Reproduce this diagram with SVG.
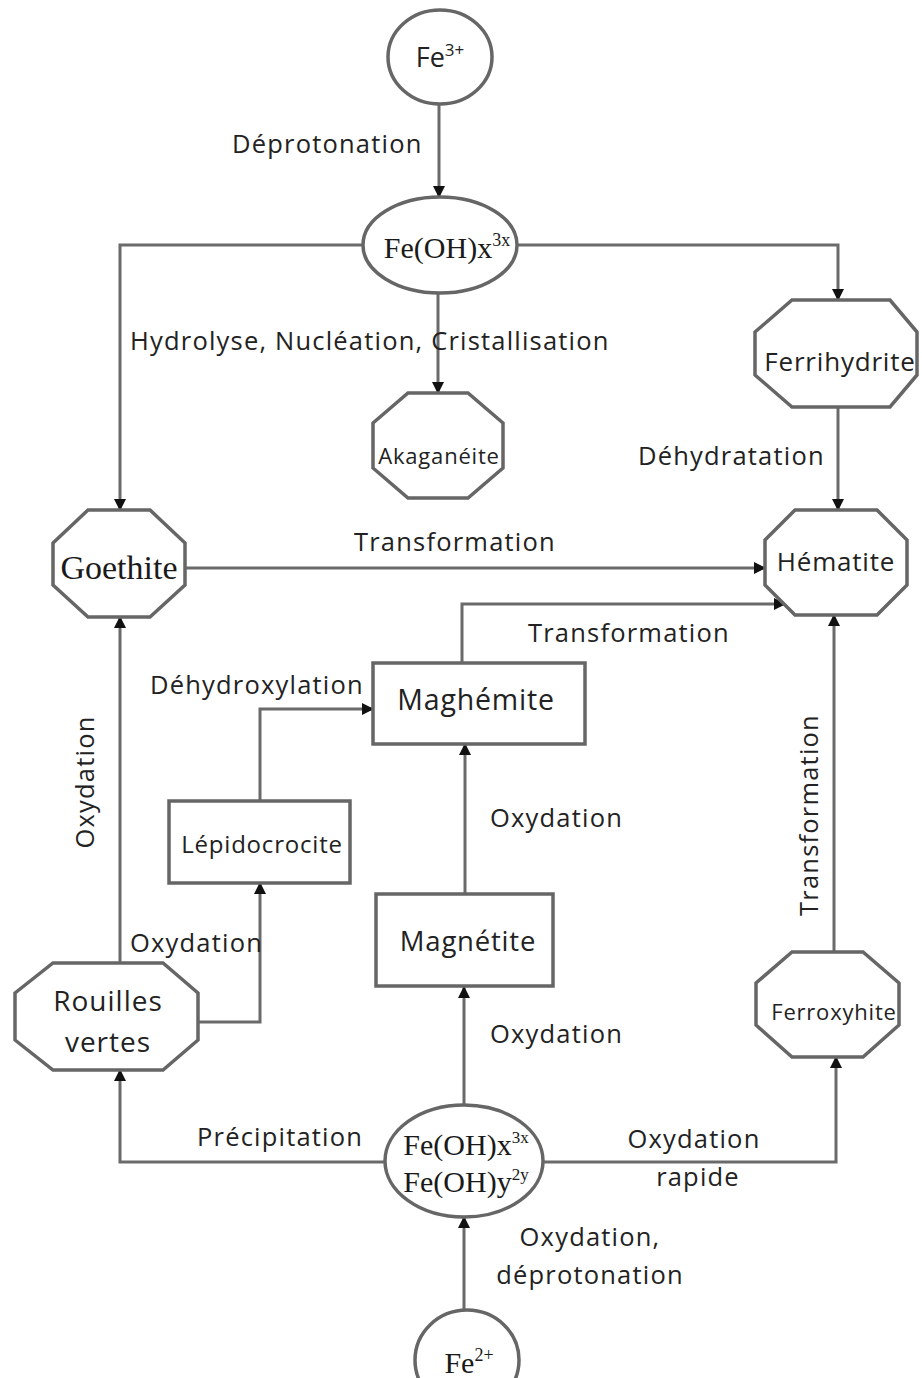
<svg xmlns="http://www.w3.org/2000/svg" width="922" height="1378" viewBox="0 0 922 1378">
<defs>
<marker id="ah" viewBox="0 0 12 12" refX="11" refY="6" markerWidth="12" markerHeight="12" markerUnits="userSpaceOnUse" orient="auto">
<path d="M0,0 L12,6 L0,12 Z" fill="#111"/>
</marker>
<style>
.n{fill:#fff;stroke:#666;stroke-width:3.5}
.c{fill:none;stroke:#6a6a6a;stroke-width:3;marker-end:url(#ah)}
.s{font-family:"Open Sans","Noto Sans","DejaVu Sans",sans-serif;fill:#222;text-anchor:middle;letter-spacing:0.8px}
.r{font-family:"Liberation Serif","Times New Roman",serif;fill:#1a1a1a;text-anchor:middle}
.l{font-family:"Open Sans","Noto Sans","DejaVu Sans",sans-serif;fill:#222;font-size:25.5px;letter-spacing:1.2px}
</style>
</defs>
<rect width="922" height="1378" fill="#fff"/>
<g id="connectors">
<path class="c" d="M439,104 V197"/>
<path class="c" d="M363,245 H120 V510"/>
<path class="c" d="M517,245 H838 V300"/>
<path class="c" d="M438,293 V393"/>
<path class="c" d="M838,407 V510"/>
<path class="c" d="M185,568 H765"/>
<path class="c" d="M462,663 V604 H785"/>
<path class="c" d="M260,801 V709 H373"/>
<path class="c" d="M465,894 V744"/>
<path class="c" d="M464,1105 V987"/>
<path class="c" d="M385,1162 H120 V1070"/>
<path class="c" d="M543,1162 H836 V1057"/>
<path class="c" d="M464,1310 V1217"/>
<path class="c" d="M120,963 V617"/>
<path class="c" d="M198,1022 H260 V883"/>
<path class="c" d="M834,952 V615"/>
</g>
<g id="labels">
<text class="l" x="232" y="153">Déprotonation</text>
<text class="l" x="130" y="350">Hydrolyse, Nucléation, Cristallisation</text>
<text class="l" x="638" y="465">Déhydratation</text>
<text class="l" x="354" y="551">Transformation</text>
<text class="l" x="528" y="642">Transformation</text>
<text class="l" x="150" y="694">Déhydroxylation</text>
<text class="l" x="490" y="827">Oxydation</text>
<text class="l" x="130" y="952">Oxydation</text>
<text class="l" x="490" y="1043">Oxydation</text>
<text class="l" x="197" y="1146">Précipitation</text>
<text class="l" x="694" y="1148" text-anchor="middle">Oxydation</text>
<text class="l" x="698" y="1186" text-anchor="middle">rapide</text>
<text class="l" x="590" y="1246" text-anchor="middle">Oxydation,</text>
<text class="l" x="590" y="1284" text-anchor="middle">déprotonation</text>
<text class="l" transform="translate(94,782) rotate(-90)" text-anchor="middle">Oxydation</text>
<text class="l" transform="translate(818,815) rotate(-90)" text-anchor="middle">Transformation</text>
</g>
<g id="fe3">
<ellipse class="n" cx="440" cy="57" rx="52" ry="47"/>
<text class="s" x="440" y="67" font-size="27" style="letter-spacing:0">Fe<tspan font-size="17" dy="-11">3+</tspan></text>
</g>
<g id="feohx">
<ellipse class="n" cx="440" cy="245" rx="77" ry="48"/>
<text class="r" x="447" y="258" font-size="30">Fe(OH)x<tspan font-size="18" dy="-12">3x</tspan></text>
</g>
<g id="akaganeite">
<polygon class="n" points="408,393 468,393 503,423 503,468 468,498 408,498 373,468 373,423"/>
<text class="s" x="439" y="464" font-size="22">Akaganéite</text>
</g>
<g id="ferrihydrite">
<polygon class="n" points="792,300 890,300 917,332 917,375 890,407 792,407 755,375 755,332"/>
<text class="s" x="840" y="371" font-size="26">Ferrihydrite</text>
</g>
<g id="goethite">
<polygon class="n" points="88,510 150,510 185,543 185,585 150,617 88,617 53,585 53,543"/>
<text class="r" x="119" y="579" font-size="34">Goethite</text>
</g>
<g id="hematite">
<polygon class="n" points="795,510 877,510 907,540 907,585 877,615 795,615 765,585 765,540"/>
<text class="s" x="836" y="571" font-size="26">Hématite</text>
</g>
<g id="maghemite">
<rect class="n" x="373" y="663" width="212" height="81"/>
<text class="s" x="476" y="710" font-size="28.5">Maghémite</text>
</g>
<g id="lepidocrocite">
<rect class="n" x="169" y="801" width="181" height="82"/>
<text class="s" x="262" y="853" font-size="24">Lépidocrocite</text>
</g>
<g id="magnetite">
<rect class="n" x="376" y="894" width="177" height="92"/>
<text class="s" x="468" y="951" font-size="27.5">Magnétite</text>
</g>
<g id="rouilles">
<polygon class="n" points="53,963 163,963 198,993 198,1040 163,1070 53,1070 15,1040 15,993"/>
<text class="s" x="108" y="1011" font-size="28" style="letter-spacing:1px">Rouilles</text>
<text class="s" x="108" y="1052" font-size="28" style="letter-spacing:1px">vertes</text>
</g>
<g id="ferroxyhite">
<polygon class="n" points="792,952 863,952 899,983 899,1025 863,1057 792,1057 756,1025 756,983"/>
<text class="s" x="834" y="1020" font-size="22">Ferroxyhite</text>
</g>
<g id="feohxy">
<ellipse class="n" cx="464" cy="1161" rx="79" ry="56"/>
<text class="r" x="466" y="1155" font-size="30">Fe(OH)x<tspan font-size="17" dy="-12">3x</tspan></text>
<text class="r" x="466" y="1192" font-size="30">Fe(OH)y<tspan font-size="17" dy="-12">2y</tspan></text>
</g>
<g id="fe2">
<ellipse class="n" cx="467" cy="1360" rx="52" ry="50"/>
<text class="r" x="469" y="1373" font-size="30">Fe<tspan font-size="18" dy="-12">2+</tspan></text>
</g>
</svg>
